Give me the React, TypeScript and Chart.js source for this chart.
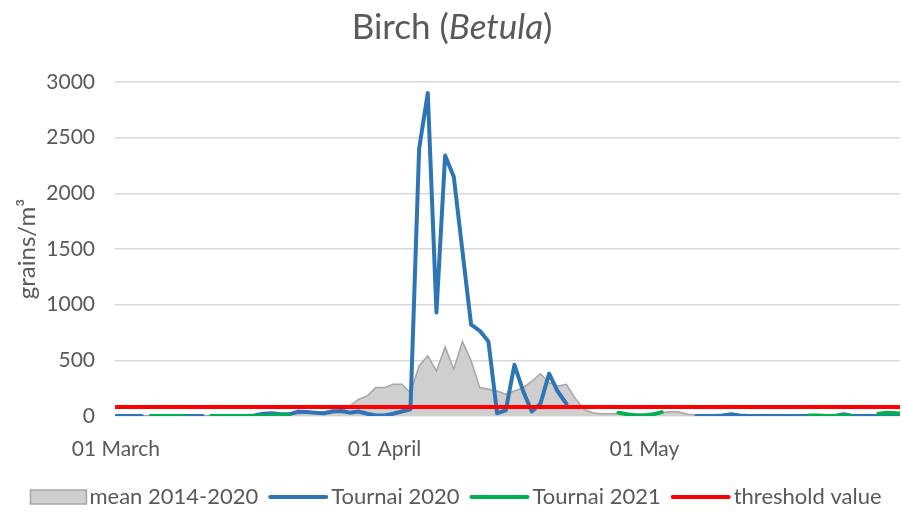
import React, { useEffect, useRef } from 'react';
import { Chart, registerables } from 'chart.js';

Chart.register(...registerables);

// ---- data ----
const monthNames = ['March', 'April', 'May'];
const monthLengths = [31, 30, 31];
const xTickDays = [0, 31, 61]; // 01 March, 01 April, 01 May
const yMin = 0;
const yMax = 3000;
const yStep = 500;

const titleParts = [
  { text: 'Birch (', italic: false },
  { text: 'Betula', italic: true },
  { text: ')', italic: false },
];
const yAxisTitle = 'grains/m³';
const seriesNames = ['mean 2014-2020', 'Tournai 2020', 'Tournai 2021', 'threshold value'];

// 1 March ... 31 May (92 days)
const mean20142020 = [
  0, 0, 0, 2, 2, 2, 3, 3, 3, 4,
  4, 5, 5, 6, 8, 8, 10, 12, 15, 15,
  18, 20, 25, 25, 35, 55, 45, 90, 150, 180,
  255, 255, 285, 285, 210, 450, 540, 405, 620, 420,
  670, 495, 255, 240, 225, 195, 225, 255, 310, 380,
  300, 270, 285, 160, 60, 30, 20, 20, 20, 20,
  18, 15, 20, 30, 40, 35, 15, 10, 8, 8,
  6, 5, 5, 4, 4, 3, 3, 3, 3, 3,
  3, 3, 3, 3, 3, 3, 3, 3, 3, 3,
  3, 3,
];

const tournai2020 = [
  0, 0, 0, 0, null, null, null, null, 0, 0,
  0, null, 0, 0, 0, 0, 5, 20, 25, 15,
  15, 40, 35, 30, 25, 40, 45, 30, 40, 20,
  5, 5, 20, 40, 60, 2400, 2900, 930, 2340, 2150,
  1480, 820, 765, 670, 25, 50, 460, 225, 40, 110,
  380, 220, 110, null, null, null, null, null, null, null,
  null, null, null, null, null, null, null, 0, 0, 0,
  5, 15, 5, 0, 0, 0, 0, 0, 0, 0,
  0, 0, 0, 0, 15, 0, 0, 0, 0, 0,
  0, 0,
];

const tournai2021 = [
  null, null, null, null, 0, 0, 0, 0, 0, null,
  null, 0, 0, 0, 0, 0, 0, 0, 5, 10,
  10, null, null, null, null, null, null, null, null, null,
  null, null, null, null, null, null, null, null, null, null,
  null, null, null, null, null, null, null, null, null, null,
  null, null, null, null, null, null, null, null, 30, 15,
  5, 5, 15, 35, null, null, null, null, null, null,
  null, null, null, null, null, null, null, null, null, null,
  5, 5, 0, 0, 5, 0, null, null, 20, 30,
  25, 20,
];

const thresholdValue = 80;

const categories: string[] = [];
monthNames.forEach((m, i) => {
  for (let d = 1; d <= monthLengths[i]; d++) {
    categories.push(`${String(d).padStart(2, '0')} ${m}`);
  }
});
const dayIndex = categories.map((_, i) => i);
const thresholdSeries = categories.map(() => thresholdValue);

// ---- styles ----
const FONT = 'Lato, "Liberation Sans", sans-serif';
const TEXT_COLOR = '#595959';
const AREA_FILL = '#d0cece';
const AREA_LINE = '#a6a6a6';
const BLUE = '#2e75b6';
const GREEN = '#00b050';
const RED = '#ff0000';

const titlePlugin = {
  id: 'mixedTitle',
  afterDraw(chart: any) {
    const ctx = chart.ctx as CanvasRenderingContext2D;
    ctx.save();
    const size = 35;
    const fontFor = (italic: boolean) => `${italic ? 'italic ' : ''}${size}px ${FONT}`;
    let total = 0;
    const widths = titleParts.map((p) => {
      ctx.font = fontFor(p.italic);
      const w = ctx.measureText(p.text).width;
      total += w;
      return w;
    });
    let x = chart.width / 2 + 1 - total / 2;
    const y = 39;
    ctx.fillStyle = TEXT_COLOR;
    ctx.textBaseline = 'alphabetic';
    ctx.textAlign = 'left';
    titleParts.forEach((p, i) => {
      ctx.font = fontFor(p.italic);
      ctx.fillText(p.text, x, y);
      x += widths[i];
    });
    ctx.restore();
  },
};

const legendPlugin = {
  id: 'customLegend',
  afterDraw(chart: any) {
    const ctx = chart.ctx as CanvasRenderingContext2D;
    ctx.save();
    ctx.font = `22px ${FONT}`;
    const symW = [56, 60, 60, 60];
    const gapSym = 3;
    const gapItem = 10;
    const items = chart.data.datasets.map((ds: any, i: number) => ({
      label: ds.label,
      w: symW[i],
      tw: ctx.measureText(ds.label).width,
      ds,
      i,
    }));
    const total = items.reduce((s: number, it: any) => s + it.w + gapSym + it.tw, 0) + gapItem * (items.length - 1);
    let x = 456 - total / 2;
    const y = 497;
    items.forEach((it: any) => {
      if (it.i === 0) {
        ctx.fillStyle = AREA_FILL;
        ctx.fillRect(x, y - 7, it.w, 14);
        ctx.strokeStyle = AREA_LINE;
        ctx.lineWidth = 1.5;
        ctx.strokeRect(x, y - 7, it.w, 14);
      } else {
        ctx.strokeStyle = it.ds.borderColor;
        ctx.lineWidth = 4;
        ctx.lineCap = 'round';
        ctx.beginPath();
        ctx.moveTo(x + 2, y);
        ctx.lineTo(x + it.w - 2, y);
        ctx.stroke();
      }
      x += it.w + gapSym;
      ctx.fillStyle = TEXT_COLOR;
      ctx.textBaseline = 'middle';
      ctx.textAlign = 'left';
      ctx.fillText(it.label, x, y);
      x += it.tw + gapItem;
    });
    ctx.restore();
  },
};

export default function App() {
  const canvasRef = useRef<HTMLCanvasElement | null>(null);

  useEffect(() => {
    if (!canvasRef.current) return;
    const lineBase = {
      borderWidth: 4,
      fill: false,
      pointRadius: 0,
      tension: 0,
      spanGaps: false,
      borderCapStyle: 'round' as const,
      borderJoinStyle: 'round' as const,
    };
    const chart = new Chart(canvasRef.current, {
      type: 'line',
      data: {
        labels: dayIndex,
        datasets: [
          {
            label: seriesNames[0],
            data: mean20142020,
            borderColor: AREA_LINE,
            backgroundColor: AREA_FILL,
            borderWidth: 1.5,
            fill: 'origin',
            pointRadius: 0,
            tension: 0,
            order: 4,
          },
          { ...lineBase, label: seriesNames[1], data: tournai2020, borderColor: BLUE, backgroundColor: BLUE, order: 3 },
          { ...lineBase, label: seriesNames[2], data: tournai2021, borderColor: GREEN, backgroundColor: GREEN, order: 2 },
          { ...lineBase, label: seriesNames[3], data: thresholdSeries, borderColor: RED, backgroundColor: RED, order: 1 },
        ],
      },
      options: {
        responsive: false,
        animation: false,
        events: [],
        layout: { padding: { top: 82, right: 2, bottom: 40, left: 0 } },
        plugins: {
          legend: { display: false },
          title: { display: false },
          tooltip: { enabled: false },
        },
        scales: {
          x: {
            type: 'linear',
            min: -0.1,
            max: 90.5,
            grid: { display: false },
            border: { display: false },
            afterFit: (scale: any) => {
              scale.height = 56;
            },
            afterBuildTicks: (scale: any) => {
              scale.ticks = xTickDays.map((v) => ({ value: v }));
            },
            ticks: {
              autoSkip: false,
              maxRotation: 0,
              minRotation: 0,
              padding: 13,
              color: TEXT_COLOR,
              font: { family: FONT, size: 21 },
              callback: (v: any) => categories[Math.round(Number(v))] ?? '',
            },
          },
          y: {
            min: yMin,
            max: yMax,
            afterFit: (scale: any) => {
              scale.width = 115;
            },
            grid: { color: '#d9d9d9', lineWidth: 1.5, drawTicks: false },
            border: { display: false },
            ticks: {
              stepSize: yStep,
              padding: 20,
              color: TEXT_COLOR,
              font: { family: FONT, size: 21 },
              callback: (v: any) => String(v),
            },
            title: {
              display: true,
              text: yAxisTitle,
              color: TEXT_COLOR,
              font: { family: FONT, size: 24 },
              padding: { top: 13, bottom: 0 },
            },
          },
        },
      },
      plugins: [titlePlugin, legendPlugin],
    });
    return () => chart.destroy();
  }, []);

  return (
    <div style={{ position: 'fixed', left: 0, top: 0, width: 902, height: 512, background: '#fff' }}>
      <canvas ref={canvasRef} width={902} height={512} style={{ display: 'block' }} />
    </div>
  );
}
